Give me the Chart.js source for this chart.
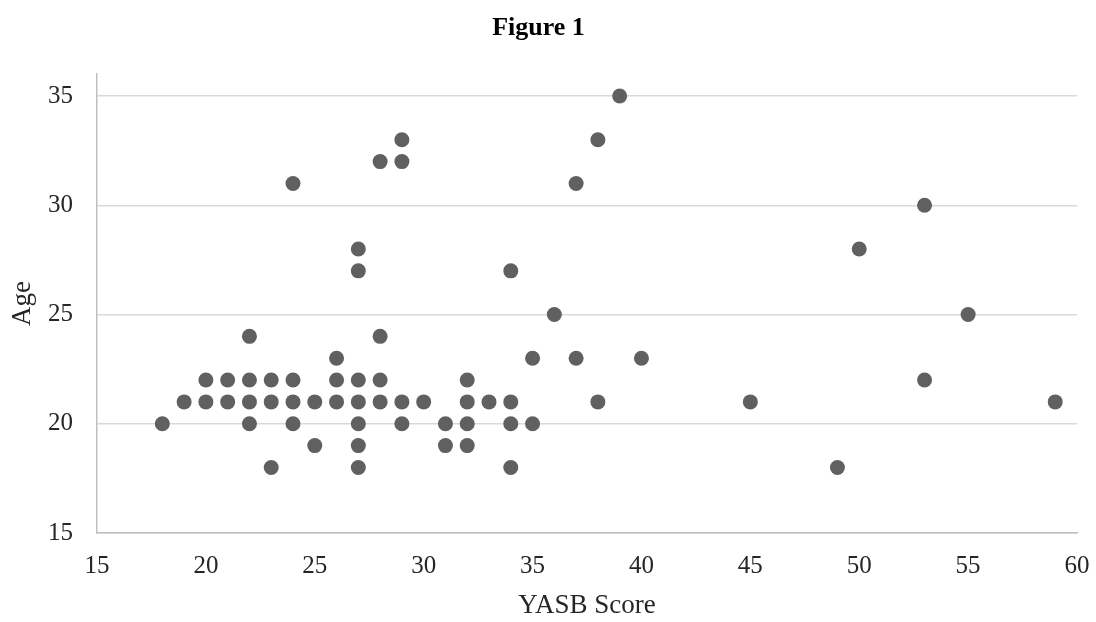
<!DOCTYPE html>
<html>
<head>
<meta charset="utf-8">
<script src="https://cdn.jsdelivr.net/npm/chart.js@4"></script>
<style>
  html, body { margin: 0; padding: 0; background: #fff; }
  #wrap { width: 1096px; height: 622px; }
</style>
</head>
<body>
<div id="wrap"><canvas id="c"></canvas></div>
<script>
// YASB score (x) and age (y) for each respondent
const yasbScores = [
    18, 19, 20, 20, 21, 21, 22, 22, 22, 22, 23, 23, 23, 24, 24, 24, 24, 25, 25,
    26, 26, 26, 27, 27, 27, 27, 27, 27, 27, 28, 28, 28, 28, 29, 29, 29, 29, 30,
    31, 31, 32, 32, 32, 32, 33, 34, 34, 34, 34, 35, 35, 36, 37, 37, 38, 38, 39,
    40, 45, 49, 50, 53, 53, 55, 59
];
const ages = [
    20, 21, 22, 21, 22, 21, 24, 22, 21, 20, 22, 21, 18, 31, 22, 21, 20, 21, 19,
    23, 22, 21, 28, 27, 22, 21, 20, 19, 18, 32, 24, 22, 21, 33, 32, 21, 20, 21,
    20, 19, 22, 21, 20, 19, 21, 27, 21, 20, 18, 23, 20, 25, 31, 23, 33, 21, 35,
    23, 21, 18, 28, 30, 22, 25, 21
];
const xTicks = [15, 20, 25, 30, 35, 40, 45, 50, 55, 60];
const yTicks = [15, 20, 25, 30, 35];
const yMax = 36;

const FONT = '"Liberation Serif", "Times New Roman", serif';
const textColor = '#262626';

const points = yasbScores.map((x, i) => ({ x: x, y: ages[i] }));

new Chart(document.getElementById('c'), {
    type: 'scatter',
    data: {
        datasets: [{
            label: 'Age',
            data: points,
            backgroundColor: '#606060',
            borderColor: '#606060',
            borderWidth: 0,
            pointRadius: 7.5,
            pointHoverRadius: 7.5
        }]
    },
    options: {
        responsive: true,
        maintainAspectRatio: false,
        animation: false,
        layout: { padding: { left: 0, right: 19, top: 0, bottom: 0 } },
        scales: {
            x: {
                type: 'linear',
                min: xTicks[0],
                max: xTicks[xTicks.length - 1],
                afterBuildTicks: (s) => { s.ticks = xTicks.map(v => ({ value: v })); },
                afterFit: (s) => {
                    s.height = 89;
                    s.paddingLeft = 0;
                    s.paddingRight = 0;
                },
                ticks: {
                    padding: 18,
                    color: textColor,
                    font: { family: FONT, size: 25 }
                },
                grid: { display: false, drawTicks: false },
                border: { display: true, color: '#bfbfbf', width: 1.5 },
                title: {
                    display: true,
                    text: 'YASB Score',
                    color: textColor,
                    font: { family: FONT, size: 27 },
                    padding: { top: 2, bottom: 0 }
                }
            },
            y: {
                type: 'linear',
                min: yTicks[0],
                max: yMax,
                afterBuildTicks: (s) => { s.ticks = yTicks.map(v => ({ value: v })); },
                afterFit: (s) => {
                    s.width = 97;
                    s.paddingTop = 0;
                    s.paddingBottom = 0;
                },
                ticks: {
                    padding: 24,
                    color: textColor,
                    font: { family: FONT, size: 25 }
                },
                grid: { color: '#d9d9d9', lineWidth: 1.5, drawTicks: false },
                border: { display: true, color: '#bfbfbf', width: 1.5 },
                title: {
                    display: true,
                    text: 'Age',
                    color: textColor,
                    font: { family: FONT, size: 27 },
                    padding: { top: 7, bottom: 0 }
                }
            }
        },
        plugins: {
            legend: { display: false },
            tooltip: { enabled: false },
            title: {
                display: true,
                text: 'Figure 1',
                color: '#000',
                font: { family: FONT, size: 26, weight: 'bold' },
                padding: { top: 13, bottom: 30 }
            }
        }
    }
});
</script>
</body>
</html>
